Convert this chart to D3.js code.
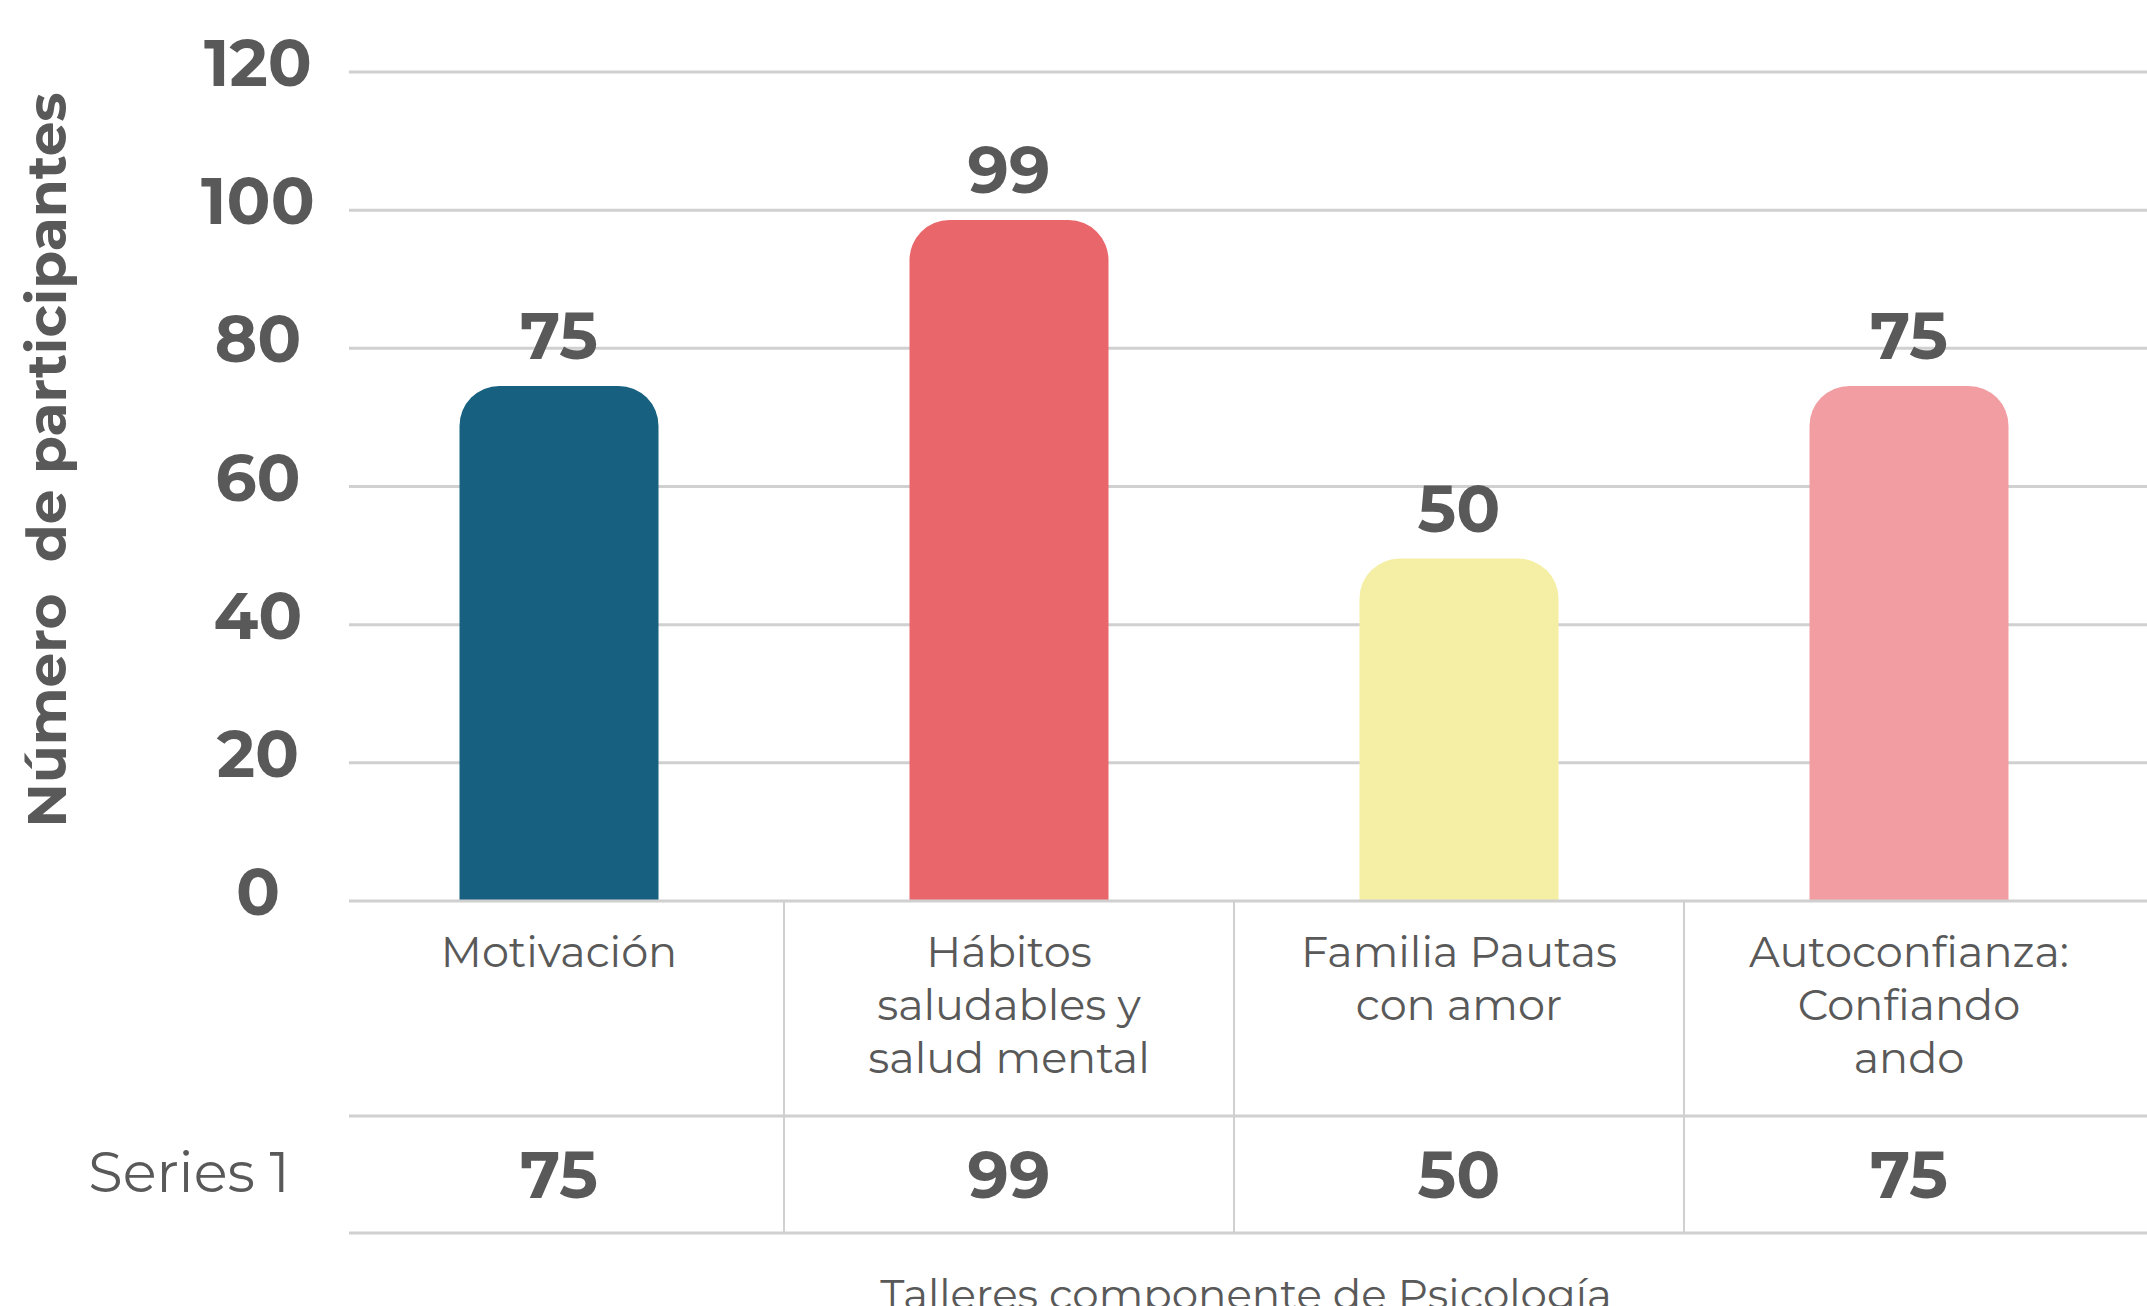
<!DOCTYPE html>
<meta charset="utf-8">
<style>
body { margin: 0; background: #fff; overflow: hidden; }
svg { display: block; font-family: "Montserrat", "DejaVu Sans", sans-serif; }
.grid line { stroke: #d0d0d0; stroke-width: 3px; }
.table line { stroke: #d0d0d0; }
text { fill: #595959; }
.tick-label, .bar-label, .cell-value { font-weight: bold; font-size: 65px; }
</style>
<svg width="2147" height="1306"></svg>
<script src="https://d3js.org/d3.v7.min.js"></script>
<script>
// data
var categories = ["Motivación", "Hábitos saludables y salud mental", "Familia Pautas con amor", "Autoconfianza: Confiando ando"];
var categoryLines = [["Motivación"], ["Hábitos", "saludables y", "salud mental"], ["Familia Pautas", "con amor"], ["Autoconfianza:", "Confiando", "ando"]];
var values = [75, 99, 50, 75];
var yTicks = [0, 20, 40, 60, 80, 100, 120];
var seriesName = "Series 1";
var yTitle = "Número  de participantes";
var xTitle = "Talleres componente de Psicología";

var colors = ["#17607f", "#e9666b", "#f5efa5", "#f29da1"];

var svg = d3.select("svg"),
    plotLeft = 349,
    plotRight = 2147,
    barWidth = 199,
    radius = 40;

var y = d3.scaleLinear()
    .domain([0, 120])
    .range([901, 72]);

var x = d3.scaleBand()
    .domain(categories)
    .range([334, 2134]);

// gridlines
svg.append("g")
    .attr("class", "grid")
  .selectAll("line")
  .data(yTicks.filter(function(d) { return d > 0; }))
  .enter().append("line")
    .attr("x1", plotLeft)
    .attr("x2", plotRight)
    .attr("y1", function(d) { return y(d); })
    .attr("y2", function(d) { return y(d); });

// y tick labels
svg.append("g")
  .selectAll("text")
  .data(yTicks)
  .enter().append("text")
    .attr("class", "tick-label")
    .attr("x", 258)
    .attr("y", function(d) { return y(d) + 14; })
    .attr("text-anchor", "middle")
    .text(function(d) { return d; });

// bars with rounded tops
function roundedTop(x0, y0, w, y1, r) {
  return "M" + x0 + "," + y1 +
    "V" + (y0 + r) +
    "A" + r + "," + r + " 0 0 1 " + (x0 + r) + "," + y0 +
    "H" + (x0 + w - r) +
    "A" + r + "," + r + " 0 0 1 " + (x0 + w) + "," + (y0 + r) +
    "V" + y1 + "Z";
}

var bars = categories.map(function(c, i) { return {cat: c, value: values[i], color: colors[i]}; });

svg.append("g")
  .selectAll("path")
  .data(bars)
  .enter().append("path")
    .attr("fill", function(d) { return d.color; })
    .attr("d", function(d) {
      var x0 = x(d.cat) + (x.bandwidth() - barWidth) / 2;
      return roundedTop(x0, y(d.value) + 3, barWidth, y(0), radius);
    });

svg.append("g")
  .selectAll("text")
  .data(bars)
  .enter().append("text")
    .attr("class", "bar-label")
    .attr("x", function(d) { return x(d.cat) + x.bandwidth() / 2; })
    .attr("y", function(d) { return y(d.value) - 24; })
    .attr("text-anchor", "middle")
    .text(function(d) { return d.value; });

// data table under the axis
var table = svg.append("g").attr("class", "table");

table.selectAll("line.h")
  .data([y(0), 1116, 1233])
  .enter().append("line")
    .attr("class", "h")
    .attr("x1", plotLeft)
    .attr("x2", plotRight)
    .attr("y1", function(d) { return d; })
    .attr("y2", function(d) { return d; })
    .style("stroke-width", "3px");

table.selectAll("line.v")
  .data(categories.slice(1))
  .enter().append("line")
    .attr("class", "v")
    .attr("x1", function(d) { return x(d); })
    .attr("x2", function(d) { return x(d); })
    .attr("y1", y(0))
    .attr("y2", 1233)
    .style("stroke-width", "2px");

var catText = table.selectAll("text.cat")
  .data(categories)
  .enter().append("text")
    .attr("class", "cat")
    .attr("text-anchor", "middle")
    .style("font-size", "43px");

catText.selectAll("tspan")
  .data(function(d, i) { return categoryLines[i].map(function(l) { return {cat: d, line: l}; }); })
  .enter().append("tspan")
    .attr("x", function(d) { return x(d.cat) + x.bandwidth() / 2; })
    .attr("y", function(d, j) { return 967 + j * 53; })
    .text(function(d) { return d.line; });

table.selectAll("text.cell-value")
  .data(bars)
  .enter().append("text")
    .attr("class", "cell-value")
    .attr("x", function(d) { return x(d.cat) + x.bandwidth() / 2; })
    .attr("y", 1198)
    .attr("text-anchor", "middle")
    .text(function(d) { return d.value; });

table.append("text")
    .attr("x", 189)
    .attr("y", 1192)
    .attr("text-anchor", "middle")
    .style("font-size", "56px")
    .text(seriesName);

// axis titles
svg.append("text")
    .attr("transform", "translate(66,460) rotate(-90)")
    .attr("text-anchor", "middle")
    .style("font-size", "55px")
    .style("font-weight", "bold")
    .style("white-space", "pre")
    .text(yTitle);

svg.append("text")
    .attr("x", 1246)
    .attr("y", 1309)
    .attr("text-anchor", "middle")
    .style("font-size", "42px")
    .text(xTitle);
</script>
